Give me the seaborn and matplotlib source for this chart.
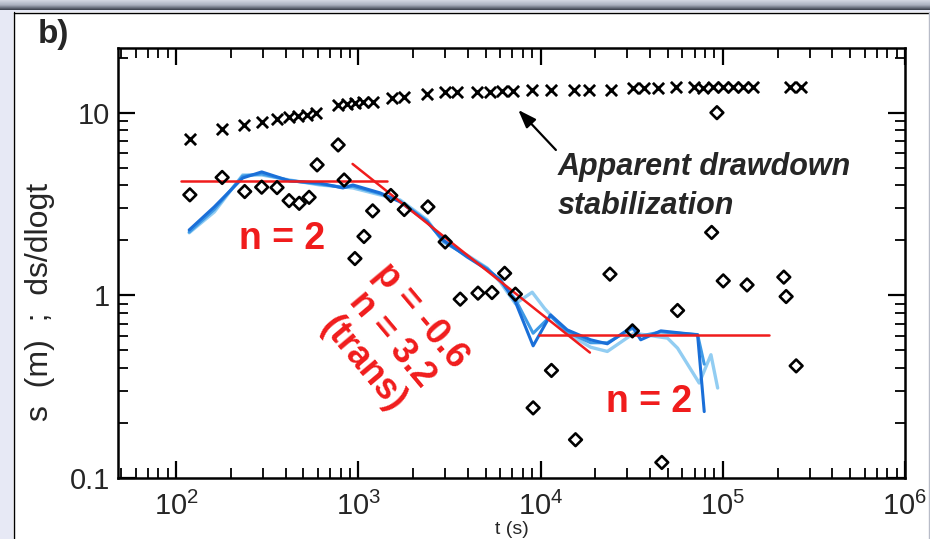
import numpy as np
import matplotlib
matplotlib.use("Agg")
import matplotlib.pyplot as plt
from matplotlib.patches import Rectangle
from matplotlib.lines import Line2D
from matplotlib.colors import LinearSegmentedColormap
from matplotlib.ticker import FixedLocator, LogLocator, NullFormatter
import seaborn as sns

# ---- drawdown s (m) versus time t (s) ----
t_draw = [119, 179, 235, 295, 358, 417, 467, 520, 584, 775, 862, 958, 1064, 1208,
          1533, 1774, 2378, 2982, 3493, 4483, 5253, 6155, 7049, 9025, 11480, 15210,
          18490, 24250, 32090, 36790, 43990, 55260, 69400, 77800, 88300, 100200,
          113800, 129200, 146600, 234400, 269400]
s_draw = [7.15, 8.11, 8.53, 8.93, 9.27, 9.44, 9.56, 9.71, 9.93, 11.02, 11.16, 11.26,
          11.40, 11.49, 11.99, 12.14, 12.66, 12.93, 12.93, 13.03, 13.03, 13.14, 13.14,
          13.26, 13.31, 13.31, 13.31, 13.31, 13.71, 13.71, 13.71, 13.88, 13.88, 13.70,
          13.88, 13.88, 13.88, 13.88, 13.88, 13.88, 13.88]

# ---- raw derivative ds/dlogt ----
t_deriv = [119, 179, 238, 295, 358, 417, 474, 537, 594, 775, 836, 958, 1074, 1199,
           1508, 1787, 2410, 2997, 3624, 4536, 5414, 6353, 7278, 9106, 11480, 15560,
           24040, 31920, 46300, 56480, 92900, 86900, 100600, 135900, 216300, 222700,
           252800]
d_deriv = [3.55, 4.42, 3.70, 3.91, 3.89, 3.30, 3.19, 3.44, 5.18, 6.66, 4.28, 1.59,
           2.10, 2.90, 3.52, 2.95, 3.05, 1.96, 0.953, 1.028, 1.036, 1.32, 1.015, 0.242,
           0.388, 0.162, 1.306, 0.639, 0.1217, 0.826, 10.0, 2.21, 1.20, 1.14, 1.258,
           0.985, 0.411]

# ---- smoothed derivatives (three smoothing windows) ----
t_smooth_1 = [118, 162, 232, 295, 420, 615, 823, 934, 1315, 1694, 2386, 2922, 3960,
              5104, 6016, 7277, 9107, 11340, 14010, 18820, 23260, 31930, 35460, 45700,
              72760, 79120]
d_smooth_1 = [2.28, 3.05, 4.39, 4.74, 4.23, 4.12, 3.87, 4.02, 3.64, 3.25, 2.52, 2.01,
              1.62, 1.38, 1.22, 0.921, 0.529, 0.782, 0.647, 0.571, 0.543, 0.675, 0.571,
              0.639, 0.608, 0.231]
t_smooth_2 = [118, 162, 232, 295, 420, 615, 823, 934, 1315, 1694, 2386, 2922, 3960,
              5104, 6016, 7277, 9107, 11340, 14010, 18820, 23260, 31930, 35460, 45700,
              72760, 79120]
d_smooth_2 = [2.22, 2.95, 4.50, 4.62, 4.25, 4.06, 3.90, 3.95, 3.60, 3.28, 2.55, 1.98,
              1.64, 1.40, 1.20, 0.95, 0.62, 0.77, 0.63, 0.55, 0.55, 0.66, 0.60, 0.63,
              0.61, 0.42]
t_smooth_3 = [118, 162, 232, 295, 420, 615, 823, 934, 1315, 1694, 2386, 2922, 3960,
              5104, 6016, 7277, 9000, 10500, 14010, 18820, 23260, 32580, 49750, 56480,
              74250, 86110, 93740]
d_smooth_3 = [2.20, 2.86, 4.56, 4.56, 4.28, 4.02, 3.92, 3.87, 3.55, 3.33, 2.59, 1.96,
              1.66, 1.41, 1.18, 0.90, 1.04, 0.85, 0.62, 0.52, 0.493, 0.621, 0.583, 0.514,
              0.331, 0.473, 0.311]

# ---- flow-dimension fits ----
t_fit_early = [106, 1443]
d_fit_early = [4.23, 4.23]
t_fit_trans = [930, 18660]
d_fit_trans = [5.24, 0.486]
t_fit_late = [9770, 180300]
d_fit_late = [0.608, 0.608]

# ---- axes ticks ----
x_ticks = [1e2, 1e3, 1e4, 1e5, 1e6]
x_tick_labels = ["$10^{2}$", "$10^{3}$", "$10^{4}$", "$10^{5}$", "$10^{6}$"]
y_ticks = [0.1, 1, 10]
y_tick_labels = ["0.1", "1", "10"]

sns.set_style("ticks")
plt.rcParams["font.family"] = ["Liberation Sans", "DejaVu Sans"]
plt.rcParams["mathtext.fontset"] = "custom"
plt.rcParams["mathtext.rm"] = "Liberation Sans"
plt.rcParams["mathtext.it"] = "Liberation Sans:italic"

W, H = 930, 539
fig = plt.figure(figsize=(W / 100, H / 100), dpi=100, facecolor="#e7e9f5")

# slide panel behind the plot
fig.patches.append(Rectangle((13 / W, 0), 1 - 14 / W, 1 - 12 / H, transform=fig.transFigure,
                             facecolor="white", edgecolor="none", zorder=-5))
fig.lines.append(Line2D([13.5 / W, 13.5 / W], [0, 1 - 12 / H], transform=fig.transFigure,
                        color="black", lw=1.0, zorder=-4))
fig.lines.append(Line2D([13.5 / W, 1], [1 - 12.5 / H, 1 - 12.5 / H], transform=fig.transFigure,
                        color="black", lw=1.0, zorder=-4))
fig.lines.append(Line2D([928.5 / W, 928.5 / W], [0, 1 - 12 / H], transform=fig.transFigure,
                        color="#b8bcc8", lw=1.0, zorder=-4))

# title bar gradient along the top edge
bar = fig.add_axes([0, 1 - 10 / H, 1, 10 / H])
bar_cmap = LinearSegmentedColormap.from_list("bar", ["#d3d7e2", "#aab0be", "#3c414d"])
bar.imshow(np.linspace(0, 1, 20).reshape(-1, 1), aspect="auto", cmap=bar_cmap,
           extent=[0, 1, 1, 0])
bar.axis("off")

ax = fig.add_axes([118 / W, (H - 478) / H, (905 - 118) / W, (478 - 48) / H])
ax.set_zorder(2)
ax.set_facecolor("white")
ax.set_xscale("log")
ax.set_yscale("log")

blue_dark = "#1a6fd8"
blue_mid = "#3f9ae6"
blue_light = "#92cdf2"
red = "#f01c1c"

sns.lineplot(x=t_smooth_3, y=d_smooth_3, ax=ax, color=blue_light, lw=2.4,
             sort=False, estimator=None, zorder=2)
sns.lineplot(x=t_smooth_2, y=d_smooth_2, ax=ax, color=blue_mid, lw=2.2,
             sort=False, estimator=None, zorder=2)
sns.lineplot(x=t_smooth_1, y=d_smooth_1, ax=ax, color=blue_dark, lw=2.2,
             sort=False, estimator=None, zorder=2)

for tx, dy in [(t_fit_early, d_fit_early), (t_fit_trans, d_fit_trans), (t_fit_late, d_fit_late)]:
    sns.lineplot(x=tx, y=dy, ax=ax, color=red, lw=1.8, sort=False, estimator=None, zorder=3)

sns.scatterplot(x=t_draw, y=s_draw, ax=ax, marker="x", s=65, color="black",
                linewidth=2.0, zorder=4)
sns.scatterplot(x=t_deriv, y=d_deriv, ax=ax, marker="D", s=42, facecolor="none",
                edgecolor="black", linewidth=1.9, zorder=4)

ax.set_xlim(48, 1e6)
ax.set_ylim(0.1, 22.6)

ax.xaxis.set_major_locator(FixedLocator(x_ticks))
ax.set_xticklabels(x_tick_labels)
ax.xaxis.set_minor_locator(LogLocator(base=10, subs=np.arange(2, 10), numticks=30))
ax.xaxis.set_minor_formatter(NullFormatter())
ax.yaxis.set_major_locator(FixedLocator(y_ticks))
ax.set_yticklabels(y_tick_labels)
ax.yaxis.set_minor_locator(LogLocator(base=10, subs=np.arange(2, 10), numticks=30))
ax.yaxis.set_minor_formatter(NullFormatter())

ax.tick_params(which="both", direction="in", top=True, right=True, color="black")
ax.tick_params(which="major", length=12, width=1.6, labelsize=21)
ax.tick_params(which="minor", length=7, width=1.3)
ax.tick_params(axis="x", which="major", pad=10)
ax.tick_params(axis="y", which="major", pad=6)
for sp in ax.spines.values():
    sp.set_linewidth(1.8)
    sp.set_color("black")

ax.set_ylabel("s  (m)  ;  ds/dlogt", fontsize=23)
ax.yaxis.set_label_coords(-0.099, 0.41)
ax.yaxis.label.set_va("center")
ax.set_xlabel("t (s)", fontsize=14)
ax.xaxis.set_label_coords(0.5, -0.1)
ax.xaxis.label.set_va("top")

# flow-dimension annotations
ax.text(382, 1.797, "n = 2", color=red, fontsize=27, fontweight="bold",
        ha="center", va="baseline", zorder=5)
ax.text(39520, 0.2306, "n = 2", color=red, fontsize=27, fontweight="bold",
        ha="center", va="baseline", zorder=5)
ax.text(1531, 0.571, "p = -0.6\nn = 3.2\n(trans)", color=red, fontsize=26,
        fontweight="bold", ha="center", va="center", rotation=-50,
        rotation_mode="anchor", multialignment="center", linespacing=1.1, zorder=5)

ax.text(12390, 4.56, "Apparent drawdown", fontsize=22, fontweight="bold",
        fontstyle="italic", ha="left", va="baseline", zorder=5)
ax.text(12390, 2.79, "stabilization", fontsize=22, fontweight="bold",
        fontstyle="italic", ha="left", va="baseline", zorder=5)
ax.annotate("", xy=(7546, 10.35), xytext=(12140, 6.25),
            arrowprops=dict(arrowstyle="-|>,head_length=1.1,head_width=0.4",
                            color="black", lw=1.6, shrinkA=0, shrinkB=0), zorder=5)

fig.text(38 / W, 1 - 43 / H, "b)", fontsize=24, fontweight="bold", ha="left",
         va="baseline")

fig.savefig("out.png", dpi=100, facecolor=fig.get_facecolor())
